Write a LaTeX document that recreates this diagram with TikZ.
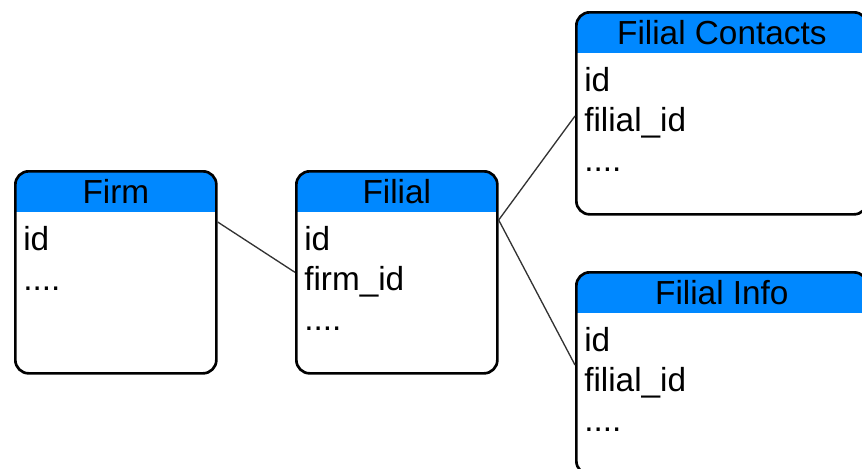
\documentclass[tikz,border=0pt]{standalone}
\usepackage{fontspec}
\setmainfont{Liberation Sans}
\usetikzlibrary{calc}
\definecolor{hdr}{RGB}{0,136,255}
\definecolor{linkc}{RGB}{51,51,51}
\begin{document}
\begin{tikzpicture}[x=0.75pt,y=-0.75pt,
  tbl/.style={draw=black, line width=2pt, rounded corners=10pt,
    minimum height=151.5pt, inner sep=0pt, anchor=north west,
    path picture={\fill[hdr,sharp corners] (path picture bounding box.north west) rectangle ([yshift=-30.75pt]path picture bounding box.north east);}},
  narrow/.style={minimum width=150.75pt},
  wide/.style={minimum width=218.25pt},
  ttl/.style={anchor=base, inner sep=0pt, font=\fontsize{25}{25}\selectfont},
  fld/.style={anchor=base west, inner sep=0pt, font=\fontsize{25}{25}\selectfont},
  link/.style={draw=linkc, line width=1pt}]
\useasboundingbox (0,0) rectangle (862,468);
\clip (0,0) rectangle (862,468);
% tables
\node[tbl,narrow] (firm) at (14,170) {};
\node[tbl,narrow] (filial) at (295,170) {};
\node[tbl,wide] (contacts) at (575,11) {};
\node[tbl,wide] (info) at (575,271) {};
% titles
\node[ttl] (firm-t) at ($(firm.north)+(0,33)$) {Firm};
\node[ttl] (filial-t) at ($(filial.north)+(0,33)$) {Filial};
\node[ttl] (contacts-t) at ($(contacts.north)+(0,33)$) {Filial Contacts};
\node[ttl] (info-t) at ($(info.north)+(0,33)$) {Filial Info};
% fields
\node[fld] (firm-1) at ($(firm.north west)+(9,80)$) {id};
\node[fld] (firm-2) at ($(firm.north west)+(9,120)$) {....};
\node[fld] (filial-1) at ($(filial.north west)+(9,80)$) {id};
\node[fld] (filial-2) at ($(filial.north west)+(9,120)$) {firm\_id};
\node[fld] (filial-3) at ($(filial.north west)+(9,160)$) {....};
\node[fld] (contacts-1) at ($(contacts.north west)+(9,80)$) {id};
\node[fld] (contacts-2) at ($(contacts.north west)+(9,120)$) {filial\_id};
\node[fld] (contacts-3) at ($(contacts.north west)+(9,160)$) {....};
\node[fld] (info-1) at ($(info.north west)+(9,80)$) {id};
\node[fld] (info-2) at ($(info.north west)+(9,120)$) {filial\_id};
\node[fld] (info-3) at ($(info.north west)+(9,160)$) {....};
% connectors
\draw[link] ($(firm.north east)+(0,52)$) -- (filial.west);
\draw[link] ($(filial.north east)+(0,50)$) -- ($(contacts.north west)+(0,105)$);
\draw[link] ($(filial.north east)+(0,50)$) -- ($(info.north west)+(0,94)$);
\end{tikzpicture}
\end{document}
